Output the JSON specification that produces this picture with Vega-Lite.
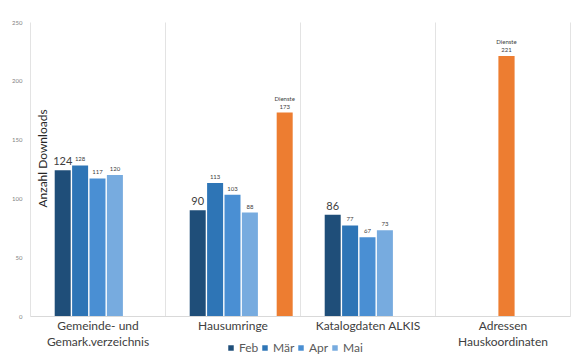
{
  "$schema": "https://vega.github.io/schema/vega-lite/v6.json",
  "width": 540,
  "height": 294,
  "autosize": {"type": "none"},
  "padding": {"left": 30, "top": 22, "right": 12, "bottom": 39},
  "background": "white",
  "config": {
    "font": "Lato",
    "view": {"stroke": null}
  },
  "data": {
    "values": [
      {"category": "Gemeinde- und Gemark.verzeichnis", "series": "Feb", "value": 124},
      {"category": "Gemeinde- und Gemark.verzeichnis", "series": "Mär", "value": 128},
      {"category": "Gemeinde- und Gemark.verzeichnis", "series": "Apr", "value": 117},
      {"category": "Gemeinde- und Gemark.verzeichnis", "series": "Mai", "value": 120},
      {"category": "Hausumringe", "series": "Feb", "value": 90},
      {"category": "Hausumringe", "series": "Mär", "value": 113},
      {"category": "Hausumringe", "series": "Apr", "value": 103},
      {"category": "Hausumringe", "series": "Mai", "value": 88},
      {"category": "Hausumringe", "series": "Dienste", "value": 173},
      {"category": "Katalogdaten ALKIS", "series": "Feb", "value": 86},
      {"category": "Katalogdaten ALKIS", "series": "Mär", "value": 77},
      {"category": "Katalogdaten ALKIS", "series": "Apr", "value": 67},
      {"category": "Katalogdaten ALKIS", "series": "Mai", "value": 73},
      {"category": "Adressen Hauskoordinaten", "series": "Dienste", "value": 221}
    ]
  },
  "encoding": {
    "x": {
      "field": "category",
      "type": "nominal",
      "sort": null,
      "scale": {"paddingInner": 0, "paddingOuter": 0},
      "axis": {
        "title": null,
        "labelAngle": 0,
        "labelFontSize": 12,
        "labelColor": "#404040",
        "labelPadding": 4,
        "labelLineHeight": 16,
        "labelExpr": "datum.label == 'Gemeinde- und Gemark.verzeichnis' ? ['Gemeinde- und','Gemark.verzeichnis'] : datum.label == 'Adressen Hauskoordinaten' ? ['Adressen','Hauskoordinaten'] : datum.label",
        "ticks": false,
        "grid": true,
        "tickBand": "extent",
        "gridColor": "#e3e3e3",
        "domainColor": "#d9d9d9"
      }
    },
    "y": {
      "field": "value",
      "type": "quantitative",
      "scale": {"domain": [0, 250]},
      "axis": {
        "values": [0, 50, 100, 150, 200, 250],
        "grid": false,
        "domain": false,
        "ticks": false,
        "labelFontSize": 6,
        "labelColor": "#7f7f7f",
        "labelPadding": 8,
        "title": "Anzahl Downloads",
        "titleFontSize": 12,
        "titleFontWeight": "normal",
        "titleColor": "#262626",
        "titleX": 12,
        "titleY": 136,
        "titleAngle": -90,
        "titleAlign": "center",
        "titleBaseline": "middle"
      }
    }
  },
  "layer": [
    {
      "transform": [{"filter": "datum.category != 'Adressen Hauskoordinaten'"}],
      "mark": {"type": "bar"},
      "encoding": {
        "xOffset": {
          "field": "series",
          "type": "nominal",
          "scale": {"domain": ["_a", "Feb", "Mär", "Apr", "Mai", "_b", "Dienste"], "paddingInner": 0.08, "paddingOuter": 0.42}
        },
        "color": {
          "field": "series",
          "type": "nominal",
          "scale": {"domain": ["Feb", "Mär", "Apr", "Mai", "Dienste"], "range": ["#1f4e79", "#2e75b6", "#4a8fd3", "#77abdf", "#ed7d31"]},
          "legend": {
            "title": null,
            "values": ["Feb", "Mär", "Apr", "Mai"],
            "orient": "none",
            "direction": "horizontal",
            "legendX": 195,
            "legendY": 320,
            "symbolType": "square",
            "symbolSize": 30,
            "symbolStrokeWidth": 0,
            "labelFontSize": 12,
            "labelColor": "#595959",
            "columnPadding": -6,
            "labelOffset": 2
          }
        }
      }
    },
    {
      "transform": [{"filter": "datum.category != 'Adressen Hauskoordinaten'"}],
      "mark": {"type": "text", "baseline": "bottom", "dy": -3, "color": "#404040"},
      "encoding": {
        "xOffset": {"field": "series", "type": "nominal"},
        "text": {"field": "value", "type": "quantitative"},
        "size": {"condition": {"test": "datum.series === 'Feb'", "value": 11}, "value": 6}
      }
    },
    {
      "transform": [{"filter": "datum.series == 'Dienste' && datum.category != 'Adressen Hauskoordinaten'"}],
      "mark": {"type": "text", "baseline": "bottom", "dy": -11, "fontSize": 6, "color": "#404040"},
      "encoding": {
        "xOffset": {"field": "series", "type": "nominal"},
        "text": {"value": "Dienste"}
      }
    },
    {
      "transform": [{"filter": "datum.category == 'Adressen Hauskoordinaten'"}],
      "mark": {"type": "bar", "width": {"band": 0.12}, "xOffset": 4},
      "encoding": {
        "color": {"field": "series", "type": "nominal"}
      }
    },
    {
      "transform": [{"filter": "datum.category == 'Adressen Hauskoordinaten'"}],
      "mark": {"type": "text", "baseline": "bottom", "dy": -3, "dx": 4, "fontSize": 6, "color": "#404040"},
      "encoding": {
        "text": {"field": "value", "type": "quantitative"}
      }
    },
    {
      "transform": [{"filter": "datum.category == 'Adressen Hauskoordinaten'"}],
      "mark": {"type": "text", "baseline": "bottom", "dy": -11, "dx": 4, "fontSize": 6, "color": "#404040"},
      "encoding": {
        "text": {"value": "Dienste"}
      }
    }
  ],
  "resolve": {"scale": {"xOffset": "shared"}}
}
